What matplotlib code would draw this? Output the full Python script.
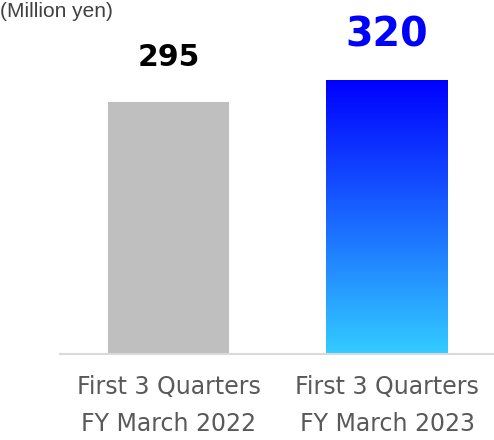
import numpy as np
import matplotlib.pyplot as plt
from matplotlib.colors import LinearSegmentedColormap

plt.rcParams['font.family'] = ['DejaVu Sans']

categories = ['First 3 Quarters\nFY March 2022', 'First 3 Quarters\nFY March 2023']
values = [295, 320]
unit_label = '(Million yen)'

fig = plt.figure(figsize=(4.94, 4.40), dpi=100)
ax = fig.add_axes([60 / 494, 86 / 440, 434 / 494, 354 / 440])

x = np.arange(len(values))
bars = ax.bar(x, values, width=0.554, color=['#bfbfbf', 'none'], zorder=2)

# vertical gradient for the current-year bar
grad = LinearSegmentedColormap.from_list('blues', ['#33ccff', '#0000ff'])
b = bars[1]
img = ax.imshow(np.linspace(0, 1, 256).reshape(-1, 1), cmap=grad, aspect='auto',
                origin='lower',
                extent=[b.get_x(), b.get_x() + b.get_width(), 0, b.get_height()],
                zorder=2)
img.set_clip_path(b)

ax.set_xlim(-0.4966, 1.4897)
ax.set_ylim(0, 414)

# value labels
ax.text(x[0], values[0] + 52, f'{values[0]}', ha='center', va='center',
        fontsize=21.5, fontweight='bold', color='black')
ax.text(x[1], values[1] + 52, f'{values[1]}', ha='center', va='center',
        fontsize=28.5, fontweight='bold', color='#0000ff')

for s in ['top', 'right', 'left']:
    ax.spines[s].set_visible(False)
ax.spines['bottom'].set_color('#d9d9d9')
ax.spines['bottom'].set_linewidth(1.5)
ax.set_yticks([])
ax.set_xticks(x)
ax.set_xticklabels(categories, fontsize=17, color='#595959', linespacing=1.7)
ax.tick_params(axis='x', length=0, pad=15)

fig.text(0, 1 - 2 / 440, unit_label, ha='left', va='top', fontsize=15,
         color='#404040', family='Liberation Sans')

fig.savefig('out.png', dpi=100)
